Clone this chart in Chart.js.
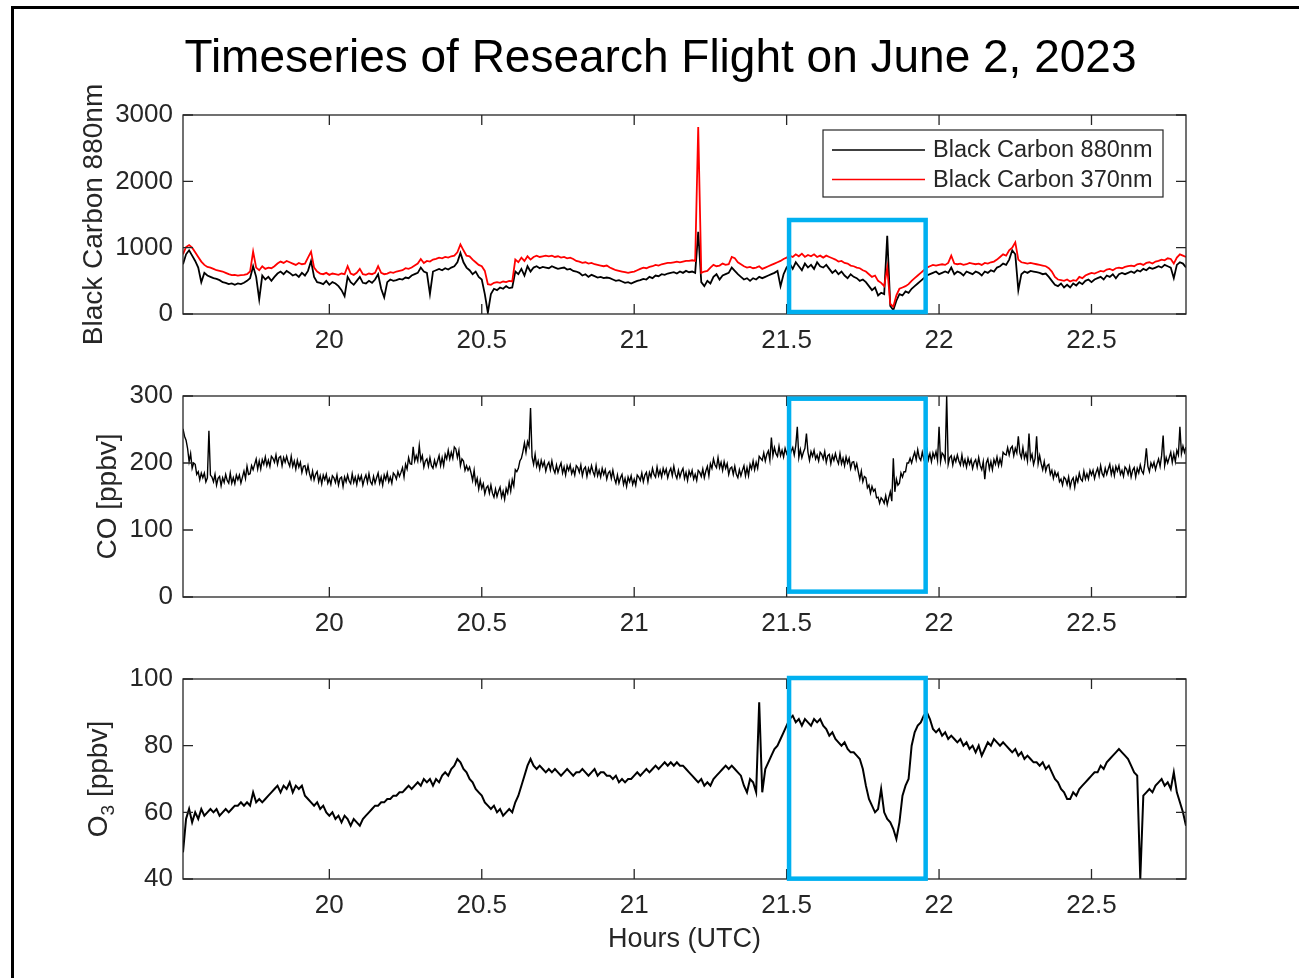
<!DOCTYPE html>
<html>
<head>
<meta charset="utf-8">
<title>Timeseries of Research Flight on June 2, 2023</title>
<script src="https://cdn.jsdelivr.net/npm/chart.js@4.4.1/dist/chart.umd.min.js"></script>
<style>
  html, body { margin: 0; padding: 0; background: #fff; overflow: hidden; }
  #page { position: relative; width: 1299px; height: 978px; overflow: hidden; }
  #frame { position: absolute; left: 11px; top: 6px; width: 1400px; height: 1100px;
           border: 3px solid #000; box-sizing: border-box; }
  canvas { position: absolute; left: 0; }
</style>
</head>
<body>
<div id="page">
  <div id="frame"></div>
  <canvas id="bcChart" width="1299" height="370" style="top:0px"></canvas>
  <canvas id="coChart" width="1299" height="270" style="top:370px"></canvas>
  <canvas id="o3Chart" width="1299" height="338" style="top:640px"></canvas>
</div>
<script>
// ---- flight record, all series start at 19.52 UTC ----
const sampleStart = 19.52;
const sampleStep = 0.01;    // hours between black carbon / ozone samples
const coStep = 0.005;       // hours between CO samples

// Black carbon, 880 nm channel
const bc880 = [
  750, 900, 960, 880, 800, 700, 480, 620, 580, 560,
  540, 530, 510, 480, 470, 450, 460, 440, 460, 450,
  470, 500, 540, 720, 560, 220, 580, 520, 560, 500,
  560, 610, 640, 600, 650, 620, 580, 600, 560, 620,
  580, 650, 800, 560, 480, 470, 450, 500, 440, 480,
  460, 420, 360, 270, 560, 480, 440, 500, 560, 470,
  460, 500, 470, 520, 600, 380, 250, 480, 520, 500,
  510, 530, 520, 550, 540, 580, 600, 620, 700, 640,
  620, 300, 640, 660, 680, 660, 690, 670, 700, 720,
  780, 920, 780, 700, 660, 600, 640, 560, 520, 300,
  20, 300, 380, 360, 400, 380, 420, 390, 400, 640,
  600, 680, 580, 720, 640, 700, 720, 690, 710, 700,
  690, 720, 700, 680, 690, 700, 670, 680, 650, 640,
  620, 580, 600, 560, 590, 570, 550, 560, 540, 550,
  540, 520, 500, 510, 490, 470, 480, 460, 480, 500,
  510, 530, 520, 560, 540, 580, 570, 600, 590, 610,
  620, 630, 610, 640, 620, 650, 630, 640, 620, 1240,
  480, 420, 500, 460, 560, 600, 520, 580, 600, 620,
  700, 650, 600, 560, 520, 540, 500, 540, 520, 560,
  540, 560, 580, 600, 620, 650, 420, 600, 700, 760,
  680, 780, 720, 660, 760, 700, 740, 680, 780, 720,
  700, 740, 680, 620, 660, 600, 640, 580, 540, 600,
  560, 540, 500, 520, 480, 420, 360, 400, 280, 320,
  300, 1180, 120, 60, 200, 300, 280, 340, 320, 380,
  420, 460, 500, 540, 580, 600, 620, 640, 600, 620,
  640, 620, 700, 600, 640, 620, 580, 640, 620, 600,
  640, 620, 580, 640, 620, 660, 640, 700, 720, 760,
  740, 820, 960, 900, 360, 600, 640, 620, 650, 640,
  630, 620, 600, 610, 560, 500, 440, 420, 460, 400,
  440, 400, 460, 430, 480, 450, 500, 520, 480, 520,
  540, 560, 520, 580, 560, 600, 540, 600, 620, 600,
  620, 640, 620, 660, 640, 680, 660, 700, 680, 700,
  720, 700, 740, 720, 700, 540, 740, 780, 760, 700
];

// Black carbon, 370 nm channel
const bc370 = [
  900, 1010, 1040, 1000, 930, 860, 790, 740, 710, 700,
  680, 660, 650, 640, 620, 600, 585, 590, 580, 585,
  590, 600, 640, 940, 700, 660, 720, 680, 700, 690,
  720, 760, 790, 770, 800, 780, 760, 740, 770, 750,
  760, 850, 940, 700, 640, 610, 600, 620, 590, 610,
  600, 590, 610, 600, 720, 610, 590, 620, 680, 600,
  590, 610, 600, 620, 720, 620, 600, 610, 630, 620,
  640, 650, 660, 690, 680, 700, 730, 760, 830, 770,
  800, 790, 820, 830, 850, 840, 860, 850, 870, 880,
  930, 1050, 960, 880, 870, 820, 780, 740, 720, 650,
  450, 440, 470, 480, 470, 490, 480, 500, 490, 820,
  780, 850, 800, 870, 820, 860, 880, 860, 870, 880,
  870, 880, 860, 870, 850, 860, 840, 850, 830, 800,
  790, 770, 780, 760, 770, 750, 740, 730, 720, 730,
  700, 680, 660, 650, 640, 630, 620, 630, 640, 660,
  680, 700, 690, 710, 720, 740, 730, 750, 760, 770,
  770, 780, 790, 780, 790, 800, 800, 810, 800, 2820,
  620, 640, 650, 700, 740, 720, 730, 760, 740, 750,
  860, 840, 780, 750, 720, 700, 710, 690, 700, 720,
  680, 700, 720, 740, 760, 780, 800, 830, 850, 880,
  860, 900, 870, 910, 860, 890, 870, 900, 860, 880,
  850, 880, 860, 840, 820, 790, 800, 770, 760, 730,
  720, 700, 690, 660, 640, 600, 560, 580, 500, 470,
  420, 700, 150, 110, 280, 380, 400, 420, 450, 500,
  540, 580, 620, 660, 700, 720, 740, 730, 740, 750,
  740, 770, 880, 760, 750, 760, 740, 750, 770, 760,
  750, 760, 740, 770, 760, 780, 790, 820, 860, 900,
  880, 960, 1000, 1080, 820, 780, 770, 760, 770, 760,
  750, 740, 730, 720, 690, 640, 560, 520, 510, 500,
  520, 490, 510, 500, 560, 540, 580, 600, 620, 610,
  630, 650, 640, 670, 680, 660, 690, 700, 690, 710,
  720, 730, 720, 750, 760, 740, 770, 780, 760, 790,
  800, 820, 810, 840, 830, 760, 850, 900, 880, 860
];

// Carbon monoxide [ppbv]
const coPpbv = [
  251, 240, 234, 222, 202, 214, 192, 200, 198, 183, 187, 175, 185, 178, 185, 172, 178, 248, 182, 179,
  172, 183, 167, 177, 180, 166, 178, 171, 183, 174, 170, 185, 170, 178, 169, 182, 175, 182, 170, 179,
  188, 177, 195, 183, 184, 196, 190, 198, 206, 191, 203, 191, 205, 198, 209, 196, 204, 195, 210, 207,
  201, 212, 198, 208, 210, 196, 208, 201, 210, 201, 195, 210, 195, 203, 191, 204, 194, 201, 186, 195,
  196, 185, 196, 184, 176, 188, 175, 183, 187, 172, 181, 169, 182, 175, 183, 170, 177, 168, 181, 178,
  171, 182, 167, 177, 179, 165, 179, 172, 182, 173, 169, 184, 171, 179, 168, 181, 174, 181, 167, 176,
  182, 171, 184, 172, 168, 180, 170, 178, 185, 170, 179, 167, 182, 175, 185, 172, 179, 170, 185, 182,
  176, 187, 180, 186, 193, 179, 198, 191, 208, 199, 198, 224, 203, 211, 203, 226, 204, 211, 194, 203,
  206, 195, 208, 196, 192, 204, 195, 203, 211, 196, 208, 196, 213, 206, 219, 206, 216, 207, 224, 221,
  208, 219, 196, 206, 203, 189, 196, 189, 194, 185, 174, 189, 169, 177, 161, 174, 162, 169, 154, 163,
  166, 155, 167, 155, 149, 161, 150, 158, 164, 149, 158, 146, 162, 155, 171, 158, 175, 166, 190, 187,
  192, 203, 207, 217, 230, 216, 232, 225, 282, 209, 198, 213, 195, 203, 191, 204, 195, 202, 188, 197,
  201, 190, 203, 191, 185, 197, 186, 194, 200, 185, 194, 182, 196, 189, 197, 184, 191, 182, 196, 193,
  186, 197, 181, 191, 194, 180, 192, 185, 196, 187, 181, 196, 181, 189, 179, 192, 183, 190, 176, 185,
  188, 177, 189, 177, 170, 182, 170, 178, 183, 168, 177, 165, 179, 172, 181, 168, 176, 167, 182, 179,
  174, 185, 172, 182, 186, 172, 186, 179, 192, 183, 179, 194, 181, 189, 179, 192, 184, 191, 178, 187,
  192, 181, 195, 183, 177, 189, 179, 187, 192, 177, 186, 174, 188, 181, 189, 176, 183, 174, 189, 186,
  180, 191, 178, 188, 195, 181, 199, 192, 206, 197, 193, 208, 193, 201, 189, 202, 192, 199, 183, 192,
  194, 183, 195, 183, 178, 190, 181, 189, 196, 181, 193, 181, 198, 191, 203, 190, 201, 192, 210, 207,
  204, 215, 203, 213, 218, 204, 238, 211, 223, 214, 210, 225, 211, 219, 209, 222, 214, 221, 209, 218,
  223, 212, 226, 254, 208, 220, 208, 216, 222, 244, 216, 204, 217, 210, 219, 206, 212, 203, 216, 213,
  206, 217, 201, 211, 213, 199, 211, 204, 214, 205, 199, 214, 199, 207, 196, 209, 200, 207, 192, 201,
  202, 191, 199, 187, 176, 188, 172, 180, 178, 163, 167, 155, 165, 158, 161, 148, 149, 140, 148, 145,
  140, 151, 138, 148, 157, 143, 207, 157, 176, 167, 170, 185, 179, 187, 187, 200, 200, 207, 200, 209,
  216, 205, 220, 208, 204, 216, 206, 214, 220, 205, 214, 202, 215, 208, 217, 204, 254, 202, 215, 212,
  204, 300, 198, 208, 211, 197, 209, 202, 212, 203, 197, 212, 197, 205, 194, 207, 198, 205, 192, 201,
  205, 194, 208, 196, 190, 202, 176, 200, 206, 191, 202, 190, 205, 198, 209, 196, 206, 197, 216, 213,
  212, 223, 212, 222, 225, 211, 222, 215, 240, 215, 208, 223, 207, 215, 203, 244, 206, 213, 198, 207,
  240, 199, 211, 199, 190, 202, 188, 196, 198, 183, 189, 177, 187, 180, 185, 172, 176, 167, 179, 176,
  168, 179, 164, 174, 178, 164, 179, 172, 185, 176, 173, 188, 176, 184, 176, 189, 182, 189, 177, 186,
  192, 181, 196, 184, 180, 192, 183, 191, 198, 183, 193, 181, 195, 188, 196, 183, 189, 180, 194, 191,
  183, 194, 179, 189, 193, 179, 192, 185, 197, 188, 184, 199, 222, 195, 187, 200, 194, 201, 190, 199,
  206, 195, 211, 241, 196, 208, 200, 208, 216, 201, 214, 202, 219, 212, 254, 214, 225, 216, 224
];

// Ozone [ppbv]
const o3Ppbv = [
  48, 58, 61, 57, 60, 58, 61, 59, 60, 61,
  60, 61, 59, 60, 61, 60, 61, 62, 62, 63,
  62, 63, 62, 66, 63, 64, 63, 64, 65, 66,
  67, 68, 66, 68, 67, 69, 66, 68, 67, 68,
  65, 64, 63, 62, 63, 61, 62, 60, 59, 60,
  58, 59, 57, 59, 58, 56, 58, 57, 56, 58,
  59, 60, 61, 62, 62, 63, 63, 64, 64, 65,
  65, 66, 66, 67, 68, 67, 68, 69, 68, 70,
  69, 70, 68, 70, 69, 71, 72, 71, 73, 74,
  76, 75, 73, 72, 70, 69, 67, 66, 65, 63,
  62, 61, 62, 60, 61, 59, 60, 61, 60, 63,
  65, 68, 71, 74, 76, 74, 73, 74, 73, 72,
  73, 72, 73, 72, 71, 72, 73, 72, 71, 72,
  72, 73, 72, 71, 72, 73, 71, 72, 72, 71,
  71, 70, 71, 69, 70, 69, 70, 70, 71, 72,
  71, 72, 73, 72, 73, 74, 73, 74, 75, 74,
  75, 74, 75, 74, 74, 73, 72, 71, 70, 69,
  70, 68, 69, 68, 70, 71, 72, 73, 74, 73,
  74, 73, 72, 71, 68, 66, 70, 69, 66, 93,
  66, 73, 75, 77, 79, 80, 82, 84, 86, 88,
  89, 87, 88, 86, 88, 87, 86, 88, 87, 88,
  86, 85, 83, 84, 82, 81, 80, 81, 79, 78,
  78, 77, 76, 73, 68, 64, 62, 60, 61, 67,
  60, 58, 57, 55, 52, 57, 65, 68, 70, 80,
  84, 86, 87, 89, 90, 88, 85, 84, 85, 83,
  84, 82, 83, 82, 81, 82, 80, 81, 79, 80,
  78, 80, 77, 79, 81, 80, 82, 81, 80, 81,
  80, 79, 78, 79, 77, 78, 76, 77, 76, 75,
  75, 74, 75, 73, 74, 72, 70, 69, 67, 66,
  64, 64, 66, 65, 67, 68, 69, 70, 71, 72,
  72, 74, 73, 75, 76, 77, 78, 79, 78, 77,
  76, 74, 72, 71, 40, 65, 66, 67, 66, 68,
  69, 70, 68, 69, 67, 72, 66, 63, 60, 56
];

// axis extents and tick values
const hourRange = [19.52, 22.81];
const hourTicks = [20, 20.5, 21, 21.5, 22, 22.5];
const bcTicks = [0, 1000, 2000, 3000];
const coTicks = [0, 100, 200, 300];
const o3Ticks = [40, 60, 80, 100];

// highlighted plume window (hours) and its vertical span in each panel
const plumeHours = [21.508, 21.956];
const plumeBC = [30, 1417];
const plumeCO = [8, 296];
const plumeO3 = [40.1, 100.3];

const seriesNames = ['Black Carbon 880nm', 'Black Carbon 370nm'];

// ---- drawing ----
const FONT = "'Liberation Sans', Arial, Helvetica, sans-serif";
const INK = '#262626';
const HIGHLIGHT = '#00B0F0';
Chart.defaults.font.family = FONT;
Chart.defaults.color = INK;

const toPoints = (arr, step) => arr.map((v, i) => ({ x: sampleStart + i * step, y: v }));

function drawRotatedLabel(ctx, parts, baselineX, centerY) {
  ctx.save();
  ctx.translate(baselineX, centerY);
  ctx.rotate(-Math.PI / 2);
  let total = 0;
  parts.forEach(p => {
    ctx.font = p.size + 'px ' + FONT;
    p.w = ctx.measureText(p.text).width;
    total += p.w;
  });
  let pos = -total / 2;
  ctx.fillStyle = INK;
  ctx.textAlign = 'left';
  ctx.textBaseline = 'alphabetic';
  parts.forEach(p => {
    ctx.font = p.size + 'px ' + FONT;
    ctx.fillText(p.text, pos, p.dy || 0);
    pos += p.w;
  });
  ctx.restore();
}

// MATLAB-style boxed axes with inward ticks, axis labels, legend and plume box
const boxedAxes = {
  id: 'boxedAxes',
  afterDatasetsDraw(chart, args, o) {
    const { ctx, chartArea: a, scales: { x, y } } = chart;
    ctx.save();

    ctx.strokeStyle = INK;
    ctx.lineWidth = 1.3;
    ctx.strokeRect(a.left, a.top, a.right - a.left, a.bottom - a.top);
    const tl = 10;
    ctx.beginPath();
    hourTicks.forEach(v => {
      const p = x.getPixelForValue(v);
      ctx.moveTo(p, a.bottom); ctx.lineTo(p, a.bottom - tl);
      ctx.moveTo(p, a.top); ctx.lineTo(p, a.top + tl);
    });
    o.yTicks.forEach(v => {
      const p = y.getPixelForValue(v);
      ctx.moveTo(a.left, p); ctx.lineTo(a.left + tl, p);
      ctx.moveTo(a.right, p); ctx.lineTo(a.right - tl, p);
    });
    ctx.stroke();

    drawRotatedLabel(ctx, o.yLabel, o.yLabelX, (a.top + a.bottom) / 2);

    if (o.title) {
      ctx.fillStyle = '#000';
      ctx.font = '46px ' + FONT;
      ctx.textAlign = 'center';
      ctx.textBaseline = 'alphabetic';
      ctx.fillText(o.title, 660.5, 72);
    }

    if (o.xLabel) {
      ctx.fillStyle = INK;
      ctx.font = '27px ' + FONT;
      ctx.textAlign = 'center';
      ctx.textBaseline = 'middle';
      ctx.fillText(o.xLabel, (a.left + a.right) / 2, a.bottom + 61);
    }

    if (o.legend) {
      const L = a.right - 363, T = a.top + 15, R = a.right - 23, B = a.top + 82;
      ctx.fillStyle = '#fff';
      ctx.fillRect(L, T, R - L, B - T);
      ctx.strokeStyle = INK;
      ctx.lineWidth = 1.2;
      ctx.strokeRect(L, T, R - L, B - T);
      const rows = [T + 20, T + 49.5];
      chart.data.datasets.forEach((ds, k) => {
        ctx.strokeStyle = ds.borderColor;
        ctx.lineWidth = 1.6;
        ctx.beginPath();
        ctx.moveTo(L + 9, rows[k]);
        ctx.lineTo(L + 102, rows[k]);
        ctx.stroke();
        ctx.fillStyle = INK;
        ctx.font = '23.5px ' + FONT;
        ctx.textAlign = 'left';
        ctx.textBaseline = 'middle';
        ctx.fillText(ds.label, L + 110, rows[k] + 1);
      });
    }

    const x0 = x.getPixelForValue(plumeHours[0]);
    const x1 = x.getPixelForValue(plumeHours[1]);
    const y0 = y.getPixelForValue(o.plume[0]);
    const y1 = y.getPixelForValue(o.plume[1]);
    ctx.strokeStyle = HIGHLIGHT;
    ctx.lineWidth = 4.5;
    ctx.strokeRect(x0, y1, x1 - x0, y0 - y1);

    ctx.restore();
  }
};

function makePanel(id, datasets, yTicks, yMin, yMax, padTop, xAxisHeight, extra) {
  return new Chart(document.getElementById(id), {
    type: 'line',
    data: { datasets },
    options: {
      responsive: false,
      animation: false,
      devicePixelRatio: 1,
      layout: { padding: { left: 0, right: 113, top: padTop, bottom: 0 }, autoPadding: false },
      elements: { point: { radius: 0 }, line: { tension: 0 } },
      plugins: {
        legend: { display: false },
        tooltip: { enabled: false },
        boxedAxes: Object.assign({ yTicks }, extra)
      },
      scales: {
        x: {
          type: 'linear',
          min: hourRange[0],
          max: hourRange[1],
          grid: { display: false, drawTicks: false },
          border: { display: false },
          afterBuildTicks: s => { s.ticks = hourTicks.map(v => ({ value: v })); },
          afterFit: s => { s.height = xAxisHeight; },
          ticks: { padding: 11, autoSkip: false, maxRotation: 0, color: INK,
                   font: { size: 26 }, callback: v => String(v) }
        },
        y: {
          type: 'linear',
          min: yMin,
          max: yMax,
          grid: { display: false, drawTicks: false },
          border: { display: false },
          afterBuildTicks: s => { s.ticks = yTicks.map(v => ({ value: v })); },
          afterFit: s => { s.width = 183; },
          ticks: { padding: 10, autoSkip: false, color: INK,
                   font: { size: 26 }, callback: v => String(v) }
        }
      }
    },
    plugins: [boxedAxes]
  });
}

makePanel('bcChart', [
  { label: seriesNames[0], data: toPoints(bc880, sampleStep), borderColor: '#000000', borderWidth: 1.8, order: 2 },
  { label: seriesNames[1], data: toPoints(bc370, sampleStep), borderColor: '#FF0000', borderWidth: 1.8, order: 1 }
], bcTicks, 0, 3000, 115, 56, {
  yLabel: [{ text: 'Black Carbon 880nm', size: 28 }],
  yLabelX: 101.5,
  title: 'Timeseries of Research Flight on June 2, 2023',
  legend: true,
  plume: plumeBC
});

makePanel('coChart', [
  { label: 'CO', data: toPoints(coPpbv, coStep), borderColor: '#000000', borderWidth: 1.4 }
], coTicks, 0, 300, 26, 43, {
  yLabel: [{ text: 'CO [ppbv]', size: 28 }],
  yLabelX: 116,
  plume: plumeCO
});

makePanel('o3Chart', [
  { label: 'O3', data: toPoints(o3Ppbv, sampleStep), borderColor: '#000000', borderWidth: 2 }
], o3Ticks, 40, 100, 39, 99, {
  yLabel: [
    { text: 'O', size: 28 },
    { text: '3', size: 19, dy: 7 },
    { text: ' [ppbv]', size: 28 }
  ],
  yLabelX: 107,
  xLabel: 'Hours (UTC)',
  plume: plumeO3
});
</script>
</body>
</html>
